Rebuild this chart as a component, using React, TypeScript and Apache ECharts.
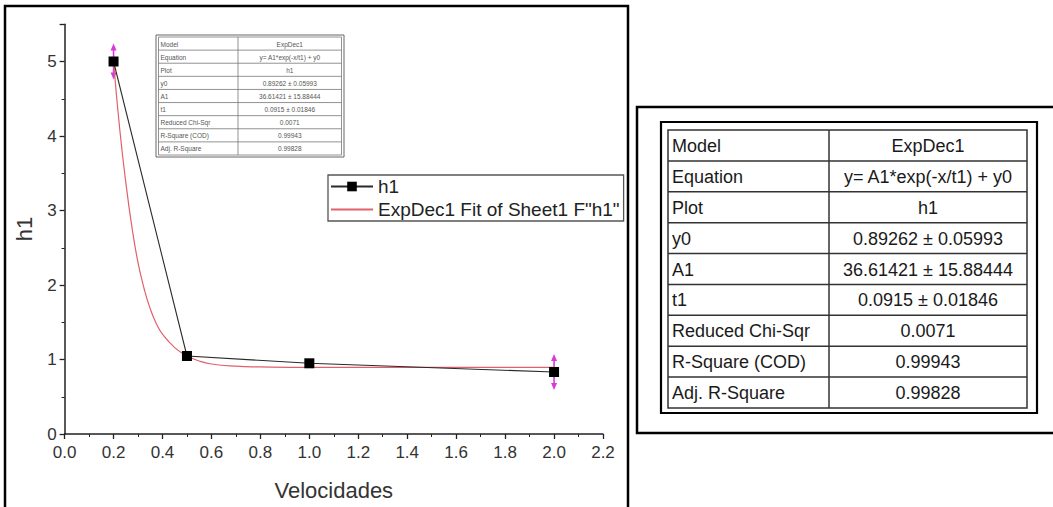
import React, { useEffect, useRef } from "react";
import * as echarts from "echarts";

// ---- data ----
const xValues = [0.2, 0.5, 1.0, 2.0];
const h1Values = [5.0, 1.047, 0.949, 0.832];

const fitX = [0.2, 0.225, 0.25, 0.275, 0.3, 0.325, 0.35, 0.375, 0.4, 0.45, 0.5, 0.55, 0.6, 0.7, 0.8, 1.0, 1.5, 2.0];
const fitY = [5.0, 4.1, 3.38, 2.78, 2.3, 1.95, 1.68, 1.48, 1.34, 1.16, 1.05, 0.98, 0.94, 0.91, 0.9, 0.893, 0.893, 0.893];

const rangeMarkerX = [0.2, 2.0];
const rangeMarkerY = [5.0, 0.832];

const fitLabels = ["Model", "Equation", "Plot", "y0", "A1", "t1", "Reduced Chi-Sqr", "R-Square (COD)", "Adj. R-Square"];
const fitValues = [
  "ExpDec1",
  "y= A1*exp(-x/t1) + y0",
  "h1",
  "0.89262 ± 0.05993",
  "36.61421 ± 15.88444",
  "0.0915 ± 0.01846",
  "0.0071",
  "0.99943",
  "0.99828",
];

const seriesNames = ["h1", 'ExpDec1 Fit of Sheet1 F"h1"'];
const xAxisTitle = "Velocidades";
const yAxisTitle = "h1";

const FONT = "'Liberation Sans', Arial, sans-serif";

function buildTable(
  left: number,
  top: number,
  width: number,
  height: number,
  colX: number,
  fontSize: number,
  textColor: string,
  lineColor: string,
  lineWidth: number,
  padX: number
) {
  const els: any[] = [];
  const rows = fitLabels.length;
  const rh = height / rows;
  els.push({
    type: "rect",
    shape: { x: left, y: top, width, height },
    style: { fill: "none", stroke: lineColor, lineWidth },
    silent: true,
  });
  for (let i = 1; i < rows; i++) {
    els.push({
      type: "line",
      shape: { x1: left, y1: top + i * rh, x2: left + width, y2: top + i * rh },
      style: { stroke: lineColor, lineWidth },
      silent: true,
    });
  }
  els.push({
    type: "line",
    shape: { x1: colX, y1: top, x2: colX, y2: top + height },
    style: { stroke: lineColor, lineWidth },
    silent: true,
  });
  for (let i = 0; i < rows; i++) {
    const cy = top + i * rh + rh / 2 + 0.5;
    els.push({
      type: "text",
      x: left + padX,
      y: cy,
      style: {
        text: fitLabels[i],
        fontFamily: FONT,
        fontSize,
        fill: textColor,
        align: "left",
        verticalAlign: "middle",
      },
      silent: true,
    });
    els.push({
      type: "text",
      x: (colX + left + width) / 2,
      y: cy,
      style: {
        text: fitValues[i],
        fontFamily: FONT,
        fontSize,
        fill: textColor,
        align: "center",
        verticalAlign: "middle",
      },
      silent: true,
    });
  }
  return els;
}

export default function App() {
  const ref = useRef<HTMLDivElement>(null);

  useEffect(() => {
    if (!ref.current) return;
    const chart = echarts.init(ref.current, null, { renderer: "svg" });

    const graphics: any[] = [
      // left panel frame
      {
        type: "rect",
        shape: { x: 5, y: 6, width: 623, height: 510 },
        style: { fill: "none", stroke: "#000", lineWidth: 2.5 },
        silent: true,
        z: 0,
      },
      // right panel frame
      {
        type: "rect",
        shape: { x: 637, y: 107, width: 430, height: 326 },
        style: { fill: "none", stroke: "#000", lineWidth: 2.5 },
        silent: true,
      },
      // right table outer frame
      {
        type: "rect",
        shape: { x: 661, y: 122, width: 376, height: 291 },
        style: { fill: "none", stroke: "#000", lineWidth: 2.2 },
        silent: true,
      },
      ...buildTable(668, 130, 359, 278, 829, 18, "#1a1a1a", "#333", 1.5, 4),
      // small in-plot table outer frame
      {
        type: "rect",
        shape: { x: 156, y: 35, width: 188, height: 122 },
        style: { fill: "#fff", stroke: "#666", lineWidth: 1 },
        silent: true,
      },
      ...buildTable(158.5, 37, 183, 118, 238, 6.5, "#555", "#777", 0.8, 2),
    ];

    chart.setOption({
      animation: false,
      backgroundColor: "#fff",
      textStyle: { fontFamily: FONT },
      grid: { left: 64.6, right: 450, top: 24.25, bottom: 73 },
      legend: {
        orient: "vertical",
        left: 328,
        top: 175,
        padding: [2, 4, 2, 2],
        itemGap: 4,
        itemWidth: 42,
        itemHeight: 12,
        borderColor: "#555",
        borderWidth: 1.3,
        backgroundColor: "#fff",
        textStyle: { fontFamily: FONT, fontSize: 19, color: "#222" },
        data: [
          { name: seriesNames[0] },
          { name: seriesNames[1], itemStyle: { color: "rgba(0,0,0,0)", borderWidth: 0, opacity: 0 } },
        ],
      },
      xAxis: {
        type: "value",
        min: 0,
        max: 2.2,
        interval: 0.2,
        name: xAxisTitle,
        nameLocation: "middle",
        nameGap: 45,
        nameTextStyle: { fontFamily: FONT, fontSize: 22, color: "#333" },
        axisLine: { show: true, onZero: false, lineStyle: { color: "#222", width: 1.5 } },
        axisTick: { show: true, inside: false, length: 5, lineStyle: { color: "#222", width: 1.3 } },
        minorTick: { show: true, splitNumber: 2, length: 3, lineStyle: { color: "#222", width: 1 } },
        splitLine: { show: false },
        axisLabel: {
          fontFamily: FONT,
          fontSize: 17,
          color: "#333",
          margin: 10,
          formatter: (v: number) => v.toFixed(1),
        },
      },
      yAxis: {
        type: "value",
        min: 0,
        max: 5.5,
        interval: 1,
        name: yAxisTitle,
        nameLocation: "middle",
        nameGap: 29,
        nameTextStyle: { fontFamily: FONT, fontSize: 22, color: "#333" },
        axisLine: { show: true, onZero: false, lineStyle: { color: "#222", width: 1.5 } },
        axisTick: { show: true, inside: false, length: 5, lineStyle: { color: "#222", width: 1.3 } },
        minorTick: { show: true, splitNumber: 2, length: 3, lineStyle: { color: "#222", width: 1 } },
        splitLine: { show: false },
        axisLabel: {
          fontFamily: FONT,
          fontSize: 17,
          color: "#333",
          margin: 8,
          showMaxLabel: false,
        },
      },
      series: [
        {
          type: "custom",
          name: "range",
          z: 1,
          silent: true,
          data: rangeMarkerX.map((x, i) => [x, rangeMarkerY[i]]),
          renderItem: (params: any, api: any) => {
            const p = api.coord([api.value(0), api.value(1)]);
            const half = 18;
            const c = "#d83ad8";
            return {
              type: "group",
              children: [
                {
                  type: "line",
                  shape: { x1: p[0], y1: p[1] - half + 4, x2: p[0], y2: p[1] + half - 4 },
                  style: { stroke: c, lineWidth: 1.6 },
                },
                {
                  type: "polygon",
                  shape: { points: [[p[0] - 3, p[1] - half + 7], [p[0] + 3, p[1] - half + 7], [p[0], p[1] - half]] },
                  style: { fill: c },
                },
                {
                  type: "polygon",
                  shape: { points: [[p[0] - 3, p[1] + half - 7], [p[0] + 3, p[1] + half - 7], [p[0], p[1] + half]] },
                  style: { fill: c },
                },
              ],
            };
          },
        },
        {
          type: "line",
          name: seriesNames[1],
          z: 2,
          data: fitX.map((x, i) => [x, fitY[i]]),
          smooth: true,
          showSymbol: false,
          symbol: "none",
          lineStyle: { color: "#e0606c", width: 1.2 },
          itemStyle: { color: "#e0606c" },
        },
        {
          type: "line",
          name: seriesNames[0],
          z: 3,
          data: xValues.map((x, i) => [x, h1Values[i]]),
          symbol: "rect",
          symbolSize: 10,
          lineStyle: { color: "#2a2a2a", width: 1.1 },
          itemStyle: { color: "#000" },
        },
      ],
      graphic: graphics,
    });

    return () => chart.dispose();
  }, []);

  return (
    <div
      ref={ref}
      style={{ position: "fixed", left: 0, top: 0, width: 1053, height: 507, background: "#fff" }}
    />
  );
}
